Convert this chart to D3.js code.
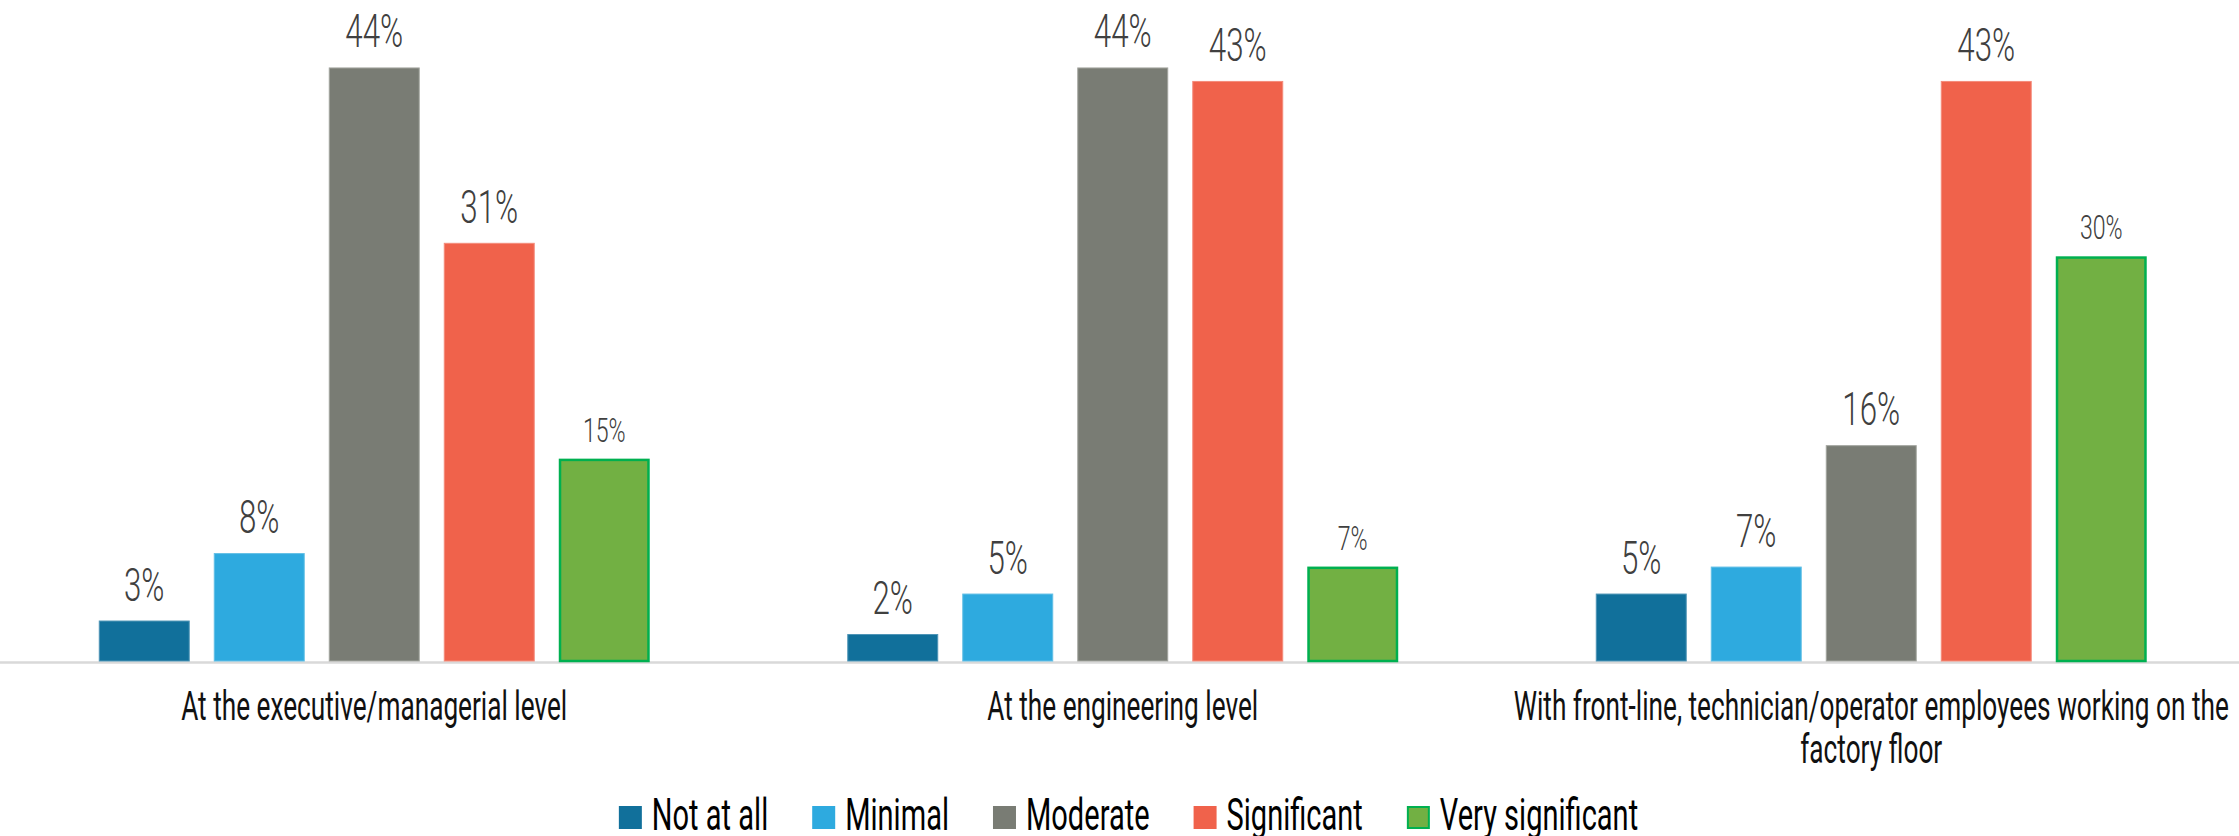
<!DOCTYPE html>
<html>
<head>
<meta charset="utf-8">
<script src="https://cdn.jsdelivr.net/npm/d3@7"></script>
<style>
  html, body { margin: 0; padding: 0; background: #ffffff; }
  svg { display: block; }
  text { font-family: Roboto, "Open Sans", sans-serif; }
</style>
</head>
<body>
<svg id="chart" width="2239" height="836"></svg>
<script>
// Survey responses by organisational level (share of respondents)
const categories = [
  "At the executive/managerial level",
  "At the engineering level",
  "With front-line, technician/operator employees working on the factory floor"
];
const seriesNames = ["Not at all", "Minimal", "Moderate", "Significant", "Very significant"];
const notAtAll        = [0.03, 0.02, 0.05];
const minimal         = [0.08, 0.05, 0.07];
const moderate        = [0.44, 0.44, 0.16];
const significant     = [0.31, 0.43, 0.43];
const verySignificant = [0.15, 0.07, 0.30];
const seriesValues = [notAtAll, minimal, moderate, significant, verySignificant];

const fills   = ["#11709b", "#2eaadf", "#797c74", "#f0624b", "#72b043"];
const strokes = ["#4f95b6", "#62bfe6", "#a3a59f", "#f48c7b", "#00b050"];
const strokeW = [1, 1, 1, 1, 2.5];
const labelSize = [46, 46, 46, 46, 34];

const W = 2239, H = 836;
const baseY = 661;

const svg = d3.select("#chart");

// squeeze a text horizontally so the wide sans face reads like a narrow display face
function squeeze(sel, k) {
  sel.each(function () {
    const w = this.getComputedTextLength();
    d3.select(this).attr("textLength", w * k).attr("lengthAdjust", "spacingAndGlyphs");
  });
  return sel;
}

const x0 = d3.scaleBand().domain(categories).range([0, 2245.5]).paddingInner(0);
const innerWidth = 575;
const x1 = d3.scaleBand().domain(seriesNames)
  .range([0, innerWidth]).paddingInner(0.209).paddingOuter(0.1045);
const y = d3.scaleLinear().domain([0, 0.49]).range([baseY, 0]);

// one record per bar, with its absolute left edge
const bars = [];
categories.forEach((c, i) => {
  const gx = x0(c) + (x0.bandwidth() - innerWidth) / 2;
  seriesNames.forEach((s, j) => {
    bars.push({ cat: c, series: s, j, v: seriesValues[j][i], left: gx + x1(s) });
  });
});

// axis baseline
svg.append("line")
  .attr("x1", 0).attr("x2", W)
  .attr("y1", baseY + 1.5).attr("y2", baseY + 1.5)
  .attr("stroke", "#d9d9d9").attr("stroke-width", 2.5);

svg.selectAll("rect.bar").data(bars).join("rect")
  .attr("class", "bar")
  .attr("x", d => d.left + strokeW[d.j] / 2)
  .attr("width", d => x1.bandwidth() - strokeW[d.j])
  .attr("y", d => y(d.v) + strokeW[d.j] / 2)
  .attr("height", d => baseY - y(d.v) - strokeW[d.j] / 2)
  .attr("fill", d => fills[d.j])
  .attr("stroke", d => strokes[d.j])
  .attr("stroke-width", d => strokeW[d.j]);

const pct = d3.format(".0%");
svg.selectAll("text.val").data(bars).join("text")
  .attr("class", "val")
  .attr("text-anchor", "middle")
  .attr("x", d => d.left + x1.bandwidth() / 2)
  .attr("y", d => y(d.v) - (d.j === 4 ? 17 : 20))
  .attr("font-size", d => labelSize[d.j])
  .attr("font-weight", 300)
  .attr("fill", "#404040")
  .text(d => pct(d.v))
  .call(squeeze, 0.68);

// category labels, wrapped to the band width
const catSize = 40, catLine = 43, catK = 0.655;
categories.forEach(cat => {
  const cx = x0(cat) + x0.bandwidth() / 2;
  const probe = svg.append("text").attr("font-size", catSize).attr("font-weight", 400);
  const words = cat.split(" ");
  const lines = [];
  let cur = [];
  words.forEach(w => {
    const test = cur.concat(w).join(" ");
    probe.text(test);
    if (probe.node().getComputedTextLength() * catK > x0.bandwidth() && cur.length) {
      lines.push(cur.join(" "));
      cur = [w];
    } else cur.push(w);
  });
  if (cur.length) lines.push(cur.join(" "));
  probe.remove();
  lines.forEach((ln, k) => {
    svg.append("text")
      .attr("class", "cat-label")
      .attr("text-anchor", "middle")
      .attr("x", cx)
      .attr("y", 720 + k * catLine)
      .attr("font-size", catSize)
      .attr("font-weight", 400)
      .attr("fill", "#111111")
      .text(ln)
      .call(squeeze, catK);
  });
});

// legend: measure the entries first, then lay them out centred
const legSize = 45, legK = 0.645, sw = 23, swGap = 10, itemGap = 44;
const legBase = 830;
const legTexts = seriesNames.map(s => {
  const t = svg.append("text")
    .attr("class", "legend-label")
    .attr("y", legBase)
    .attr("font-size", legSize)
    .attr("font-weight", 400)
    .attr("fill", "#000000")
    .text(s)
    .call(squeeze, legK);
  return { t, w: +t.attr("textLength") };
});
const legW = d3.sum(legTexts, d => d.w) + seriesNames.length * (sw + swGap) + (seriesNames.length - 1) * itemGap;
let lx = 1128.5 - legW / 2;
seriesNames.forEach((s, j) => {
  const inset = j === 4 ? 1 : 0;
  svg.append("rect")
    .attr("class", "legend-swatch")
    .attr("x", lx + inset).attr("y", legBase - 24 + inset)
    .attr("width", sw - 2 * inset).attr("height", sw - 2 * inset)
    .attr("fill", fills[j])
    .attr("stroke", j === 4 ? strokes[j] : "none")
    .attr("stroke-width", j === 4 ? 2 : 0);
  legTexts[j].t.attr("x", lx + sw + swGap);
  lx += sw + swGap + legTexts[j].w + itemGap;
});
</script>
</body>
</html>
